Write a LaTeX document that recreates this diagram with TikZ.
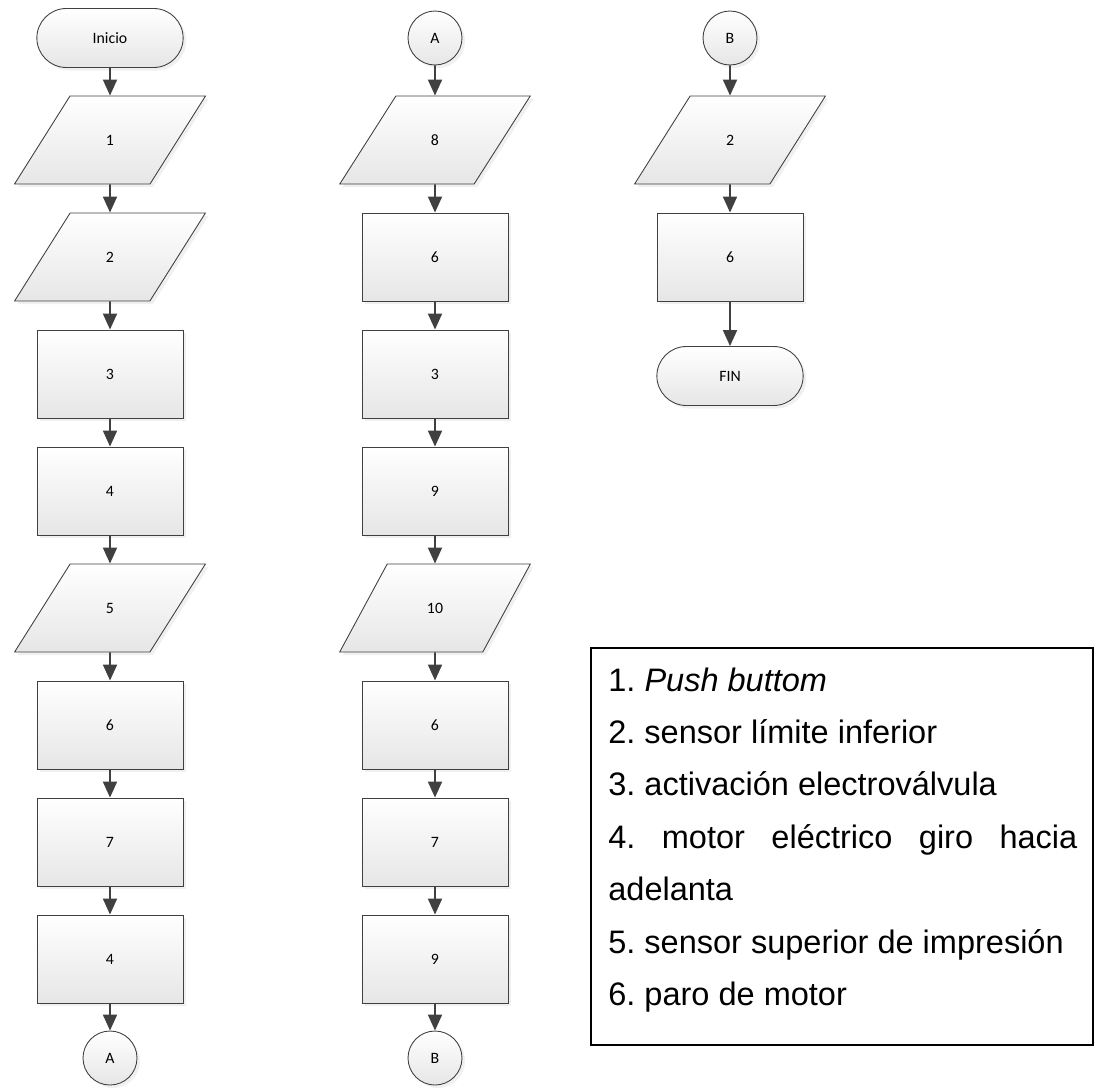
\documentclass[tikz,border=0pt]{standalone}
\usepackage{fontspec}
\newfontfamily\boxfont{Carlito}
\newfontfamily\notefont{Liberation Sans}
\usetikzlibrary{positioning,shapes.geometric,shapes.misc,arrows.meta,shadows}
\definecolor{linegray}{HTML}{404040}
\definecolor{boxgray}{HTML}{E6E6E6}
\frenchspacing

\tikzset{
  base/.style={draw=linegray, line width=0.5pt, top color=white, bottom color=boxgray,
    font=\boxfont\fontsize{9}{10}\selectfont,
    drop shadow={opacity=0.12, shadow xshift=0.06cm, shadow yshift=-0.06cm}},
  proc/.style={base, rectangle, minimum width=2.92cm, minimum height=1.76cm},
  io/.style={base, trapezium, trapezium left angle=58, trapezium right angle=122,
    trapezium stretches=true, minimum width=3.82cm, minimum height=1.76cm},
  term/.style={base, rounded rectangle, minimum width=3.16cm, minimum height=1.18cm},
  conn/.style={base, circle, minimum size=1.08cm, inner sep=0pt},
  flow/.style={draw=linegray, line width=1.1pt, -{Triangle[length=0.32cm,width=0.28cm]}},
  note/.style={anchor=base west, inner sep=0pt, font=\notefont\fontsize{18.5}{21}\selectfont}
}

\begin{document}
\begin{tikzpicture}[node distance=2.34cm,on grid]
\useasboundingbox (0,0) rectangle (22.06,-21.76);

% first column
\node[term] (ini) at (2.2,-0.76) {Inicio};
\node[io]   (a1) [below=2.04cm of ini] {1};
\node[io]   (a2) [below=of a1] {2};
\node[proc] (a3) [below=of a2] {3};
\node[proc] (a4) [below=of a3] {4};
\node[io]   (a5) [below=of a4] {5};
\node[proc] (a6) [below=of a5] {6};
\node[proc] (a7) [below=of a6] {7};
\node[proc] (a8) [below=of a7] {4};
\node[conn] (ca) [below=1.98cm of a8] {A};

% second column
\node[conn] (cA) at (8.7,-0.76) {A};
\node[io]   (b1) [below=2.04cm of cA] {8};
\node[proc] (b2) [below=of b1] {6};
\node[proc] (b3) [below=of b2] {3};
\node[proc] (b4) [below=of b3] {9};
\node[io]   (b5) [below=of b4] {10};
\node[proc] (b6) [below=of b5] {6};
\node[proc] (b7) [below=of b6] {7};
\node[proc] (b8) [below=of b7] {9};
\node[conn] (cb) [below=1.98cm of b8] {B};

% third column
\node[conn] (cB) at (14.6,-0.76) {B};
\node[io]   (d1) [below=2.04cm of cB] {2};
\node[proc] (d2) [below=of d1] {6};
\node[term] (fin) [below=2.38cm of d2] {FIN};

\draw[flow] (ini) -- (a1);
\draw[flow] (a1) -- (a2);
\draw[flow] (a2) -- (a3);
\draw[flow] (a3) -- (a4);
\draw[flow] (a4) -- (a5);
\draw[flow] (a5) -- (a6);
\draw[flow] (a6) -- (a7);
\draw[flow] (a7) -- (a8);
\draw[flow] (a8) -- (ca);

\draw[flow] (cA) -- (b1);
\draw[flow] (b1) -- (b2);
\draw[flow] (b2) -- (b3);
\draw[flow] (b3) -- (b4);
\draw[flow] (b4) -- (b5);
\draw[flow] (b5) -- (b6);
\draw[flow] (b6) -- (b7);
\draw[flow] (b7) -- (b8);
\draw[flow] (b8) -- (cb);

\draw[flow] (cB) -- (d1);
\draw[flow] (d1) -- (d2);
\draw[flow] (d2) -- (fin);

% legend
\draw[line width=1pt] (11.82,-12.96) rectangle (21.86,-20.9);
\node[note] (n1) at (12.16,-13.82) {1. \textit{Push buttom}};
\node[note] (n2) at (12.16,-14.86) {2. sensor límite inferior};
\node[note] (n3) at (12.16,-15.9)  {3. activación electroválvula};
\node[note] (n4) at (12.16,-16.96) {\hbox to 9.38cm{4.\hfill motor\hfill eléctrico\hfill giro\hfill hacia}};
\node[note] (n5) at (12.16,-18.0)  {adelanta};
\node[note] (n6) at (12.16,-19.06) {5. sensor superior de impresión};
\node[note] (n7) at (12.16,-20.1)  {6. paro de motor};
\end{tikzpicture}
\end{document}
